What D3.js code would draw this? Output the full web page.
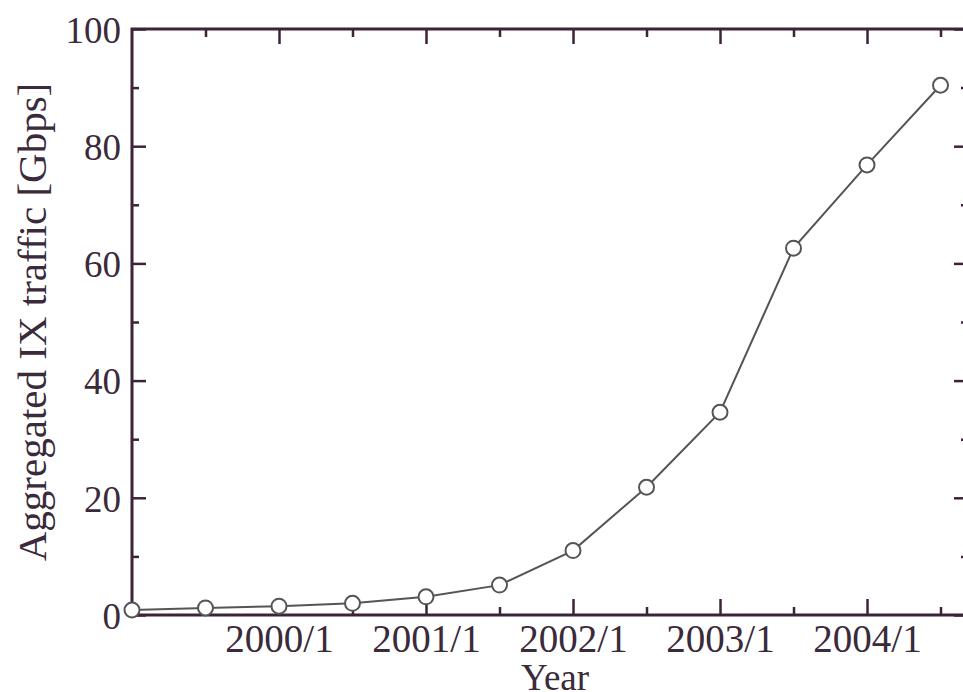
<!DOCTYPE html>
<html>
<head>
<meta charset="utf-8">
<script src="https://cdn.jsdelivr.net/npm/d3@7"></script>
<style>
  html, body { margin: 0; padding: 0; background: #fff; }
  svg { display: block; }
  text { font-family: "Liberation Serif", "DejaVu Serif", serif; fill: #3a2a3a; }
</style>
</head>
<body>
<svg id="chart" width="963" height="692"></svg>
<script>
// ---- data ----
const dates = ["1999/1","1999/7","2000/1","2000/7","2001/1","2001/7","2002/1","2002/7","2003/1","2003/7","2004/1","2004/7"];
const traffic = [0.85, 1.2, 1.5, 2.0, 3.1, 5.1, 11.0, 21.8, 34.6, 62.6, 76.8, 90.4];
const xMajorTicks = ["2000/1","2001/1","2002/1","2003/1","2004/1"];
const xMinorTicks = ["1999/7","2000/7","2001/7","2002/7","2003/7","2004/7"];
const yMajorTicks = [0, 20, 40, 60, 80, 100];
const yMinorTicks = [10, 30, 50, 70, 90];
const xTitle = "Year";
const yTitle = "Aggregated IX traffic [Gbps]";

const toYear = s => { const [y, m] = s.split("/").map(Number); return y + (m - 1) / 12; };

const svg = d3.select("#chart");
const L = 132, R = 968, T = 29, B = 615;
const axisColor = "#3d2339";

const x = d3.scaleLinear().domain([1999, 2004.687]).range([L, R]);
const y = d3.scaleLinear().domain([0, 100]).range([B, T]);

function styleAxis(g, size) {
  g.selectAll(".domain").remove();
  g.selectAll(".tick line").attr("stroke", axisColor).attr("stroke-width", 2.5);
  g.selectAll(".tick text")
    .style("font-family", '"Liberation Serif", serif')
    .style("font-size", (size || 37) + "px")
    .attr("fill", "#3a2a3a");
}

// bottom axis major
svg.append("g").attr("transform", `translate(0,${B})`)
  .call(d3.axisBottom(x).tickValues(xMajorTicks.map(toYear)).tickSizeInner(-16).tickSizeOuter(0)
    .tickPadding(0).tickFormat((d, i) => xMajorTicks[i]))
  .call(g => styleAxis(g, 39))
  .call(g => g.selectAll(".tick text").attr("y", 37).attr("dy", 0));
// bottom axis minor
svg.append("g").attr("transform", `translate(0,${B})`)
  .call(d3.axisBottom(x).tickValues(xMinorTicks.map(toYear)).tickSizeInner(-8).tickSizeOuter(0).tickFormat(""))
  .call(styleAxis);
// top axis
svg.append("g").attr("transform", `translate(0,${T})`)
  .call(d3.axisTop(x).tickValues(xMajorTicks.map(toYear)).tickSizeInner(-15).tickSizeOuter(0).tickFormat(""))
  .call(styleAxis);
svg.append("g").attr("transform", `translate(0,${T})`)
  .call(d3.axisTop(x).tickValues(xMinorTicks.map(toYear)).tickSizeInner(-8).tickSizeOuter(0).tickFormat(""))
  .call(styleAxis);
// left axis
svg.append("g").attr("transform", `translate(${L},0)`)
  .call(d3.axisLeft(y).tickValues(yMajorTicks).tickSizeInner(-14).tickSizeOuter(0).tickPadding(0)
    .tickFormat(d3.format("d")))
  .call(g => styleAxis(g, 37))
  .call(g => g.selectAll(".tick text").attr("x", -11).attr("dy", "0.36em"));
svg.append("g").attr("transform", `translate(${L},0)`)
  .call(d3.axisLeft(y).tickValues(yMinorTicks).tickSizeInner(-7).tickSizeOuter(0).tickFormat(""))
  .call(styleAxis);
// right axis
svg.append("g").attr("transform", `translate(${R},0)`)
  .call(d3.axisRight(y).tickValues(yMajorTicks).tickSizeInner(-14).tickSizeOuter(0).tickFormat(""))
  .call(styleAxis);
svg.append("g").attr("transform", `translate(${R},0)`)
  .call(d3.axisRight(y).tickValues(yMinorTicks).tickSizeInner(-7).tickSizeOuter(0).tickFormat(""))
  .call(styleAxis);

// frame
svg.append("rect").attr("x", L).attr("y", T).attr("width", R - L).attr("height", B - T)
  .attr("fill", "none").attr("stroke", axisColor).attr("stroke-width", 3);

// data line
const pts = dates.map((d, i) => [toYear(d), traffic[i]]);
svg.append("path").datum(pts)
  .attr("fill", "none").attr("stroke", "#555").attr("stroke-width", 2)
  .attr("d", d3.line().x(d => x(d[0])).y(d => y(d[1])));
svg.append("g").selectAll("circle").data(pts).join("circle")
  .attr("cx", d => x(d[0])).attr("cy", d => y(d[1])).attr("r", 7.5)
  .attr("fill", "#fff").attr("stroke", "#555").attr("stroke-width", 2);

// titles
svg.append("text").attr("x", 555).attr("y", 690).attr("text-anchor", "middle")
  .style("font-size", "37px").text(xTitle);
svg.append("text").attr("transform", "translate(46,322) rotate(-90)").attr("text-anchor", "middle")
  .style("font-size", "41px").text(yTitle);
</script>
</body>
</html>
